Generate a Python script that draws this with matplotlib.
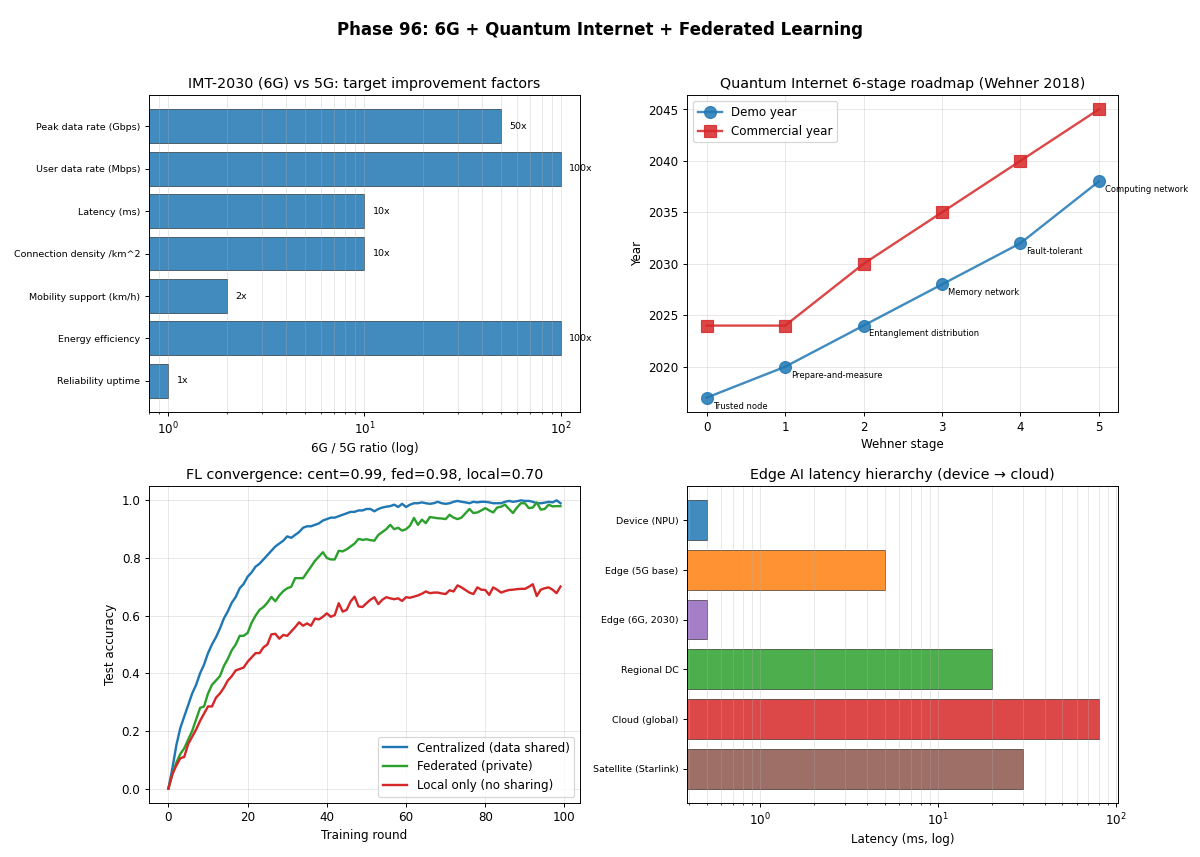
import numpy as np
import matplotlib
matplotlib.use('Agg')
import matplotlib.pyplot as plt

# IMT-2030 targets
metrics=['Peak data rate (Gbps)','User data rate (Mbps)','Latency (ms)',
         'Connection density /km^2','Mobility support (km/h)','Energy efficiency',
         'Reliability uptime']
ratio=[50,100,10,10,2,100,1]

# Wehner stages
stages=[0,1,2,3,4,5]
stage_names=['Trusted node','Prepare-and-measure','Entanglement distribution',
             'Memory network','Fault-tolerant','Computing network']
demo_year=[2017,2020,2024,2028,2032,2038]
comm_year=[2024,2024,2030,2035,2040,2045]

# FL convergence (test accuracy per round)
cent=[0.00,0.07,0.15,0.21,0.25,0.29,0.33,0.36,0.40,0.43,
      0.47,0.50,0.525,0.555,0.59,0.615,0.645,0.665,0.695,0.71,
      0.735,0.75,0.77,0.78,0.795,0.81,0.825,0.84,0.85,0.86,
      0.875,0.87,0.88,0.89,0.905,0.91,0.91,0.915,0.92,0.93,
      0.935,0.94,0.94,0.945,0.95,0.955,0.96,0.96,0.965,0.965,
      0.97,0.97,0.962,0.97,0.975,0.978,0.98,0.985,0.977,0.988,
      0.977,0.985,0.99,0.99,0.993,0.99,0.988,0.99,0.995,0.99,
      0.988,0.99,0.995,0.998,0.995,0.993,0.99,0.995,0.993,0.995,
      0.995,0.993,0.99,0.99,0.99,0.995,0.998,0.995,0.997,1.0,
      0.998,0.998,0.995,0.99,0.99,0.992,0.995,0.993,1.0,0.99]
fed=[0.00,0.05,0.09,0.12,0.14,0.17,0.20,0.24,0.28,0.285,
     0.33,0.36,0.375,0.39,0.425,0.45,0.48,0.50,0.53,0.53,
     0.54,0.575,0.60,0.62,0.63,0.645,0.665,0.65,0.67,0.685,
     0.695,0.70,0.73,0.73,0.73,0.75,0.77,0.79,0.805,0.82,
     0.80,0.795,0.795,0.825,0.823,0.83,0.84,0.85,0.866,0.863,
     0.865,0.862,0.86,0.88,0.89,0.90,0.915,0.90,0.905,0.895,
     0.90,0.912,0.939,0.915,0.933,0.921,0.942,0.94,0.938,0.937,
     0.935,0.95,0.94,0.935,0.94,0.955,0.97,0.956,0.958,0.965,
     0.973,0.965,0.958,0.975,0.978,0.985,0.97,0.956,0.975,0.99,
     0.99,0.973,0.975,0.993,0.968,0.97,0.985,0.979,0.98,0.98]
local=[0.00,0.05,0.08,0.105,0.11,0.155,0.18,0.205,0.235,0.26,
       0.285,0.285,0.315,0.33,0.35,0.375,0.39,0.41,0.415,0.42,
       0.44,0.455,0.47,0.47,0.49,0.50,0.535,0.537,0.52,0.533,
       0.53,0.545,0.56,0.577,0.565,0.573,0.565,0.59,0.587,0.596,
       0.608,0.596,0.602,0.643,0.614,0.62,0.649,0.666,0.632,0.63,
       0.643,0.655,0.664,0.64,0.655,0.664,0.66,0.657,0.66,0.651,
       0.664,0.662,0.666,0.67,0.676,0.684,0.678,0.68,0.68,0.677,
       0.675,0.688,0.684,0.705,0.698,0.689,0.68,0.675,0.698,0.69,
       0.689,0.672,0.698,0.69,0.68,0.685,0.689,0.69,0.692,0.693,
       0.693,0.70,0.709,0.668,0.69,0.695,0.698,0.69,0.678,0.701]
rounds=np.arange(len(cent))

# Edge AI latency tiers
tiers=['Device (NPU)','Edge (5G base)','Edge (6G, 2030)','Regional DC',
       'Cloud (global)','Satellite (Starlink)']
latency=[0.5,5,0.5,20,80,30]
tier_col=['#1f77b4','#ff7f0e','#9467bd','#2ca02c','#d62728','#8c564b']

fig,ax=plt.subplots(nrows=2,ncols=2,figsize=(14,10),dpi=1200/14)
fig.subplots_adjust(left=0.124,right=0.932,top=0.889,bottom=0.063,wspace=0.248,hspace=0.233)
fig.suptitle('Phase 96: 6G + Quantum Internet + Federated Learning',fontsize=14,fontweight='bold',y=0.975)

# top left
a=ax[0,0]
a.barh(metrics,ratio,color='#1f77b4',alpha=0.85,edgecolor='black',linewidth=0.5)
a.set_xscale('log')
a.invert_yaxis()
for i,v in enumerate(ratio):
    a.text(v*1.1,i,'%dx'%v,va='center',fontsize=8)
a.set_xlabel('6G / 5G ratio (log)')
a.set_title('IMT-2030 (6G) vs 5G: target improvement factors')
a.tick_params(axis='y',labelsize=8)
a.grid(True,which='both',axis='x',alpha=0.3)

# top right
a=ax[0,1]
a.plot(stages,demo_year,'o-',color='#1f77b4',lw=2,ms=10,alpha=0.85,label='Demo year')
a.plot(stages,comm_year,'s-',color='#d62728',lw=2,ms=10,alpha=0.85,label='Commercial year')
for s,n,y in zip(stages,stage_names,demo_year):
    a.annotate(n,(s,y),xytext=(5,-9),textcoords='offset points',fontsize=7)
a.set_xlabel('Wehner stage')
a.set_ylabel('Year')
a.set_title('Quantum Internet 6-stage roadmap (Wehner 2018)')
a.legend(loc='upper left')
a.grid(True,alpha=0.3)

# bottom left
a=ax[1,0]
a.plot(rounds,cent,color='#1f77b4',lw=2,label='Centralized (data shared)')
a.plot(rounds,fed,color='#2ca02c',lw=2,label='Federated (private)')
a.plot(rounds,local,color='#d62728',lw=2,label='Local only (no sharing)')
a.set_xlabel('Training round')
a.set_ylabel('Test accuracy')
a.set_title('FL convergence: cent=%.2f, fed=%.2f, local=%.2f'%(cent[-1],fed[-1],local[-1]))
a.legend(loc='lower right')
a.grid(True,alpha=0.3)

# bottom right
a=ax[1,1]
a.barh(tiers,latency,color=tier_col,alpha=0.85,edgecolor='black',linewidth=0.5)
a.set_xscale('log')
a.invert_yaxis()
a.set_xlabel('Latency (ms, log)')
a.set_title('Edge AI latency hierarchy (device \u2192 cloud)')
a.tick_params(axis='y',labelsize=8)
a.grid(True,which='both',axis='x',alpha=0.3)

fig.savefig('out.png',dpi=1200/14)
